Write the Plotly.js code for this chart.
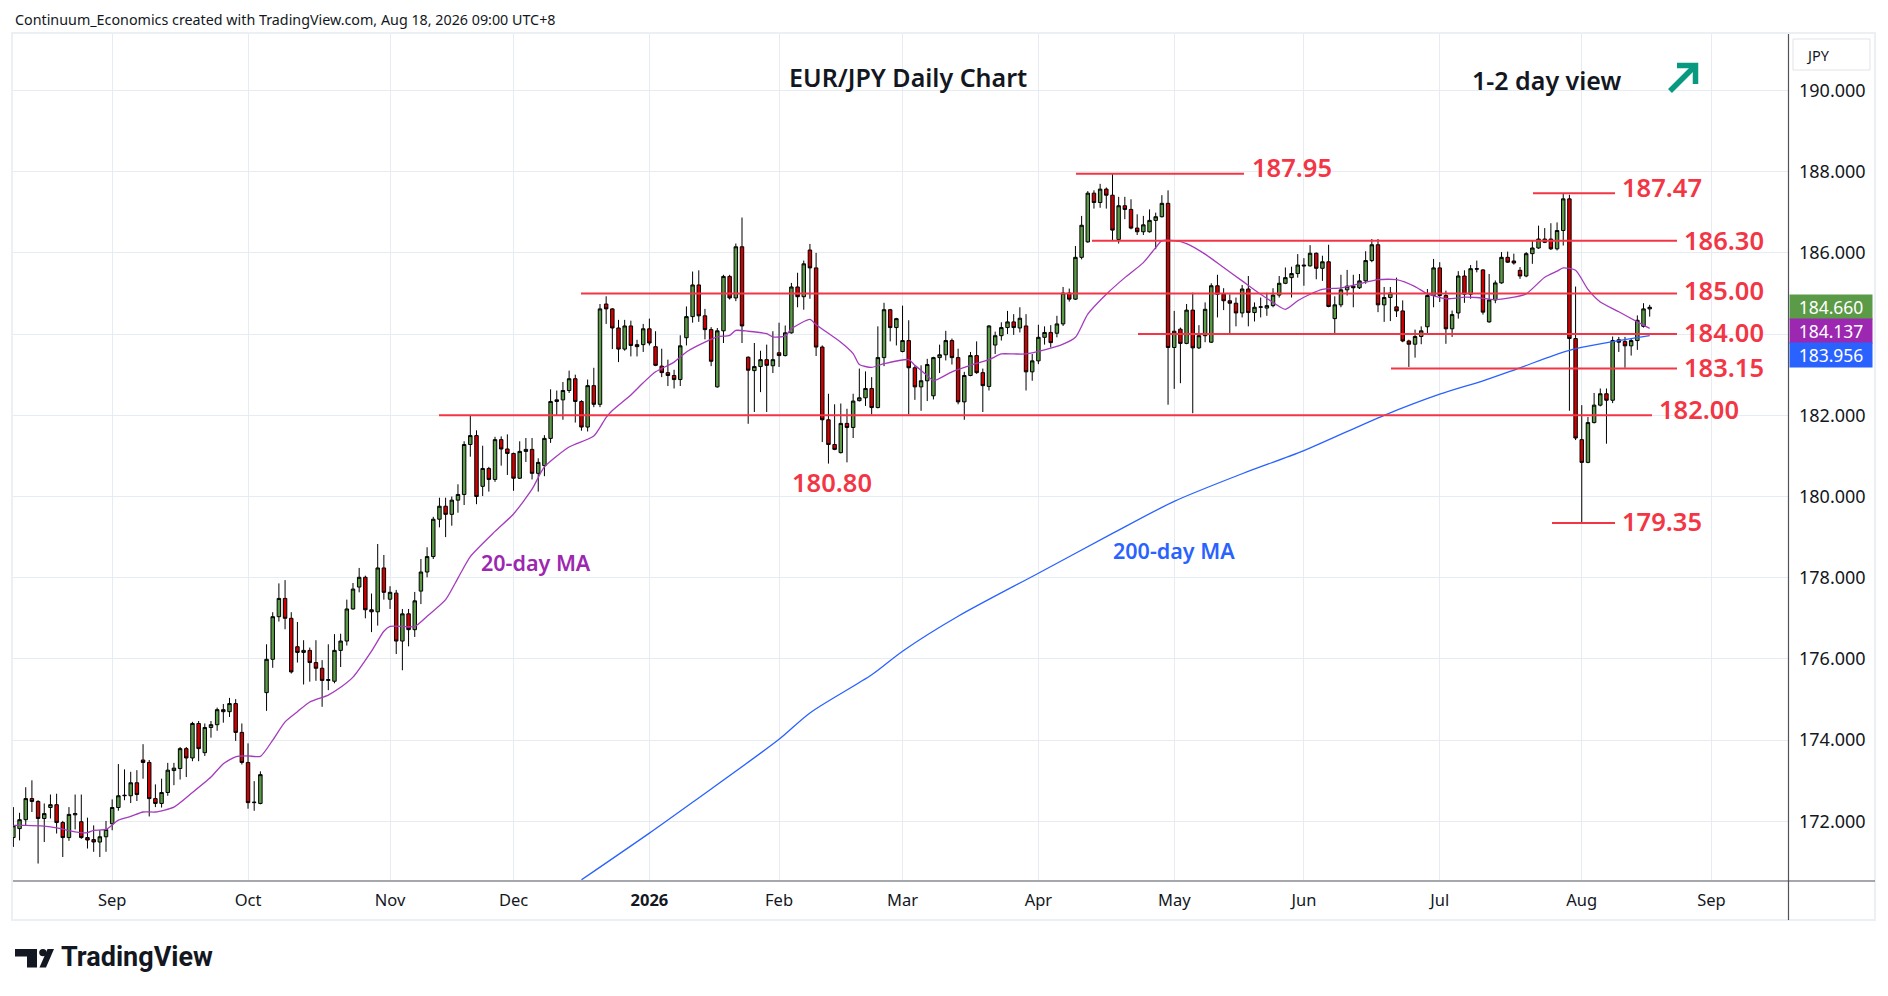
<!DOCTYPE html>
<html>
<head>
<meta charset="utf-8">
<script src="https://cdn.plot.ly/plotly-3.0.1.min.js"></script>
<style>
html,body{margin:0;padding:0;background:#fff;}
#chart{width:1888px;height:996px;}
</style>
</head>
<body>
<div id="chart"></div>
<script>
// ---------------- DATA ----------------
// Daily EUR/JPY bars, 2025-08-08 .. 2026-08-18 (weekdays, no bar on Dec 25 / Jan 1)
const firstDay = '2025-08-08';
const lastDay = '2026-08-18';
const holidays = ['2025-12-25', '2026-01-01'];

const open = [
171.60,171.82,172.04,172.56,172.49,172.07,172.34,172.41,171.97,171.60,
172.16,171.99,171.60,171.55,171.49,171.62,171.94,172.34,172.63,172.63,
172.95,173.51,173.45,172.56,172.44,172.71,173.25,173.30,173.79,173.56,
174.41,173.69,174.31,174.38,174.75,174.70,174.90,174.19,173.45,172.46,
172.44,175.17,175.99,177.04,177.49,177.00,176.30,176.16,176.21,175.91,
175.77,175.47,175.45,176.21,176.44,177.23,177.77,178.01,177.21,177.16,
178.24,177.47,177.62,176.44,177.11,176.72,177.67,178.14,178.52,179.44,
179.76,179.56,179.91,180.05,181.28,181.50,180.25,180.69,180.42,181.40,
181.17,181.06,180.45,181.11,181.16,180.57,180.76,181.43,182.34,182.38,
182.61,182.90,182.34,181.71,182.73,182.27,184.74,184.62,184.15,183.63,
184.20,183.74,183.74,184.13,183.69,183.21,183.05,182.98,182.88,183.91,
184.43,185.21,184.45,184.11,182.70,184.08,185.42,184.89,186.15,183.43,
183.10,183.20,183.37,183.22,183.54,183.47,184.03,185.16,184.92,186.07,
185.63,183.68,181.89,181.28,181.08,181.80,181.70,182.36,182.43,182.66,
182.19,183.42,184.60,184.16,183.57,183.84,183.17,182.70,182.85,182.48,
183.42,183.49,183.84,183.42,182.33,182.98,183.47,183.05,182.71,183.73,
183.96,184.16,184.30,184.15,184.20,183.07,183.34,183.92,184.04,184.02,
184.25,185.01,184.86,185.89,186.27,187.47,187.24,187.57,187.42,186.33,
187.16,187.07,186.61,186.52,186.52,186.80,186.89,187.22,183.67,184.12,
183.77,184.59,183.66,183.96,183.80,185.19,184.98,184.82,184.76,184.52,
185.11,184.53,184.66,184.64,184.70,184.96,185.25,185.39,185.49,185.70,
185.68,185.99,185.62,185.78,184.38,184.72,185.09,185.18,185.14,185.31,
185.81,186.20,184.72,184.90,184.67,184.57,183.83,183.75,183.94,184.18,
184.95,185.63,184.95,184.13,184.52,185.43,184.98,185.61,185.58,184.30,
184.84,185.26,185.89,185.80,185.57,185.43,185.98,186.12,186.34,186.34,
186.10,186.55,187.33,183.89,181.40,180.84,181.82,182.25,182.53,182.37,
183.86,183.82,183.71,183.84,184.19,184.62];

const high = [
172.35,172.21,172.84,173.01,172.52,172.44,172.66,172.68,172.01,172.35,
172.66,172.66,172.09,171.90,171.78,172.01,172.54,173.41,173.28,173.22,
173.26,173.90,173.51,172.91,173.05,173.44,173.44,173.83,173.83,174.45,
174.47,174.41,174.47,174.80,174.89,175.04,175.01,174.41,173.92,172.99,
173.23,176.36,177.15,177.86,177.94,177.15,176.91,176.46,176.28,176.46,
175.97,176.36,176.61,176.62,177.46,177.87,178.24,178.05,177.61,178.83,
178.56,177.79,177.70,177.23,177.23,177.65,178.46,178.75,179.50,179.97,
179.97,180.00,180.30,181.36,182.00,181.63,181.25,180.73,181.47,181.48,
181.53,181.08,181.36,181.44,181.44,180.94,181.51,182.64,182.61,182.82,
183.10,183.00,182.37,182.88,183.17,184.74,184.93,184.64,184.35,184.35,
184.33,183.86,184.25,184.38,184.07,183.64,183.37,183.12,183.97,184.68,
185.54,185.57,184.62,184.17,184.15,185.46,185.46,186.23,186.87,183.45,
183.78,183.59,183.74,184.07,184.28,184.21,185.26,185.51,185.81,186.22,
186.00,183.72,182.53,182.27,182.29,182.16,182.53,183.15,183.08,182.94,
184.19,184.77,184.62,184.40,184.70,184.34,183.23,183.23,183.39,183.44,
183.74,184.08,183.89,183.64,183.07,183.56,183.82,183.15,184.22,184.06,
184.29,184.57,184.49,184.66,184.49,183.51,184.23,184.19,184.22,184.45,
185.16,185.12,186.17,186.91,187.52,187.54,187.70,187.61,187.95,187.38,
187.38,187.32,186.95,186.91,187.07,186.99,187.42,187.54,184.57,184.16,
184.74,185.02,184.22,184.78,185.25,185.46,185.13,184.98,184.90,185.21,
185.43,184.78,184.90,185.02,185.13,185.43,185.64,185.66,185.97,185.87,
186.19,186.01,185.93,186.20,184.93,185.46,185.58,185.46,185.48,186.04,
186.34,186.34,185.16,185.16,185.39,184.83,183.86,184.11,184.19,185.11,
185.85,185.77,185.07,184.58,185.55,185.57,185.70,185.81,185.60,185.48,
185.32,186.02,186.03,185.98,185.65,186.02,186.30,186.67,186.61,186.73,
186.75,187.47,187.43,185.17,182.25,181.96,182.55,182.66,182.66,183.94,
183.93,183.93,183.89,184.46,184.76,184.72];

const low = [
171.37,171.53,171.90,172.23,170.96,171.49,172.07,171.70,171.12,171.52,
171.80,171.57,171.33,171.25,171.12,171.25,171.78,172.26,172.52,172.45,
172.50,173.05,172.12,172.35,172.34,172.63,172.89,173.03,173.09,173.48,
173.48,173.61,174.06,174.23,174.43,174.57,173.98,173.40,172.31,172.26,
172.42,174.72,175.78,176.92,176.73,175.64,175.91,175.37,175.44,175.46,
174.82,175.23,175.40,175.80,176.33,177.21,177.64,177.00,176.66,176.82,
177.46,177.23,176.12,175.72,176.31,176.54,177.35,178.01,178.46,179.24,
179.00,179.28,179.60,179.79,180.98,179.81,180.01,180.12,180.36,180.76,
180.53,180.14,180.43,180.85,180.42,180.12,180.50,181.32,182.00,181.89,
182.55,181.82,181.62,181.60,182.20,182.20,184.25,183.63,183.31,183.59,
183.45,183.45,183.56,183.72,183.21,182.94,182.72,182.66,182.72,183.72,
184.28,184.30,183.87,183.21,182.68,183.78,184.85,184.81,183.78,181.79,
182.08,182.57,182.08,183.04,183.19,183.45,184.01,184.66,184.60,184.87,
183.46,181.34,180.81,181.14,181.06,180.84,181.44,182.34,182.23,182.02,
182.17,183.21,183.82,183.72,183.55,182.02,182.38,182.11,182.35,182.39,
183.04,183.35,183.25,182.27,181.89,182.96,183.02,182.08,182.61,183.51,
183.84,184.00,183.98,184.04,182.61,182.85,183.26,183.74,183.67,183.92,
184.20,184.80,184.84,185.84,186.25,187.09,187.11,187.09,186.31,186.23,
186.83,186.58,186.44,186.44,186.50,186.09,186.87,182.26,182.65,182.79,
183.75,182.05,183.63,183.80,183.78,184.41,184.59,184.02,184.19,184.41,
184.19,184.31,184.41,184.45,184.66,184.90,185.23,184.90,185.39,185.19,
185.66,185.35,185.31,184.66,184.01,184.66,184.95,184.66,185.11,185.24,
185.77,184.54,184.30,184.32,184.42,183.80,183.19,183.42,183.75,184.01,
184.66,184.79,183.76,183.93,184.38,184.77,184.87,185.52,184.48,184.28,
184.76,185.24,185.75,185.71,185.36,185.40,185.73,186.10,186.24,186.07,
186.06,186.18,182.11,181.39,179.35,180.82,181.80,182.22,181.30,182.30,
183.56,183.17,183.47,183.61,184.16,184.43];

const close = [
171.89,172.04,172.56,172.49,172.07,172.19,172.41,171.97,171.60,172.17,
172.19,171.60,171.54,171.49,171.62,171.80,172.34,172.63,172.64,172.95,
172.66,173.45,172.56,172.44,172.71,173.26,173.31,173.79,173.56,174.41,
173.79,174.31,174.38,174.75,174.70,174.90,174.19,173.45,172.46,172.47,
173.15,175.99,177.04,177.49,177.00,175.68,176.16,176.21,175.91,175.77,
175.47,175.49,176.21,176.44,177.23,177.72,178.01,177.21,177.16,178.24,
177.64,177.64,176.44,177.11,176.72,177.43,178.14,178.52,179.44,179.76,
179.56,179.91,180.05,181.28,181.50,180.00,180.69,180.42,181.40,181.17,
181.06,180.45,181.11,181.16,180.57,180.84,181.43,182.34,182.38,182.61,
182.90,182.34,181.71,182.73,182.27,184.62,184.62,184.15,183.63,184.20,
183.72,183.69,184.13,183.78,183.23,183.05,182.98,182.88,183.71,184.43,
185.21,184.45,184.11,183.33,184.08,185.42,184.89,186.15,184.20,183.11,
183.20,183.37,183.23,183.37,183.47,184.03,185.16,184.92,185.73,185.63,
183.68,181.89,181.28,181.16,181.80,181.70,182.35,182.43,182.66,182.19,
183.42,184.60,184.16,184.38,183.84,183.17,182.70,182.85,183.25,183.42,
183.49,183.84,183.42,182.33,182.98,183.47,183.05,182.73,184.20,183.96,
184.16,184.30,184.16,184.39,183.07,183.34,183.92,184.04,183.79,184.25,
185.01,184.86,185.89,186.68,187.47,187.24,187.57,187.42,186.56,187.16,
187.07,186.61,186.52,186.69,186.80,186.89,187.22,183.67,184.07,183.77,
184.59,183.66,183.96,184.61,185.19,184.98,184.82,184.76,184.52,185.11,
184.53,184.66,184.67,184.70,184.96,185.25,185.39,185.49,185.70,185.68,
185.99,185.62,185.78,184.68,184.72,185.09,185.18,185.14,185.31,185.81,
186.20,184.72,184.90,185.01,184.57,183.83,183.75,183.94,184.08,184.95,
185.63,184.95,184.13,184.48,185.43,184.98,185.61,185.60,184.54,184.84,
185.26,185.89,185.77,185.75,185.43,185.98,186.12,186.34,186.26,186.10,
186.55,187.33,183.89,181.44,180.84,181.82,182.25,182.53,182.37,183.84,
183.80,183.71,183.84,184.34,184.62,184.66];

// 20-day moving average at selected bars (bar number, value)
const ma20Bar = [1,3,6,8,11,13,14,16,18,20,22,24,27,30,33,35,37,39,41,43,45,47,49,52,54,56,59,61,62,66,68,71,73,75,79,82,85,87,91,95,97,98,101,103,105,108,110,113,115,117,118,120,123,124,126,127,130,131,135,137,138,140,142,146,147,149,150,153,156,159,161,163,165,168,171,173,175,178,181,184,186,187,189,191,194,197,200,203,205,207,209,211,213,216,219,222,225,228,230,233,236,238,241,244,246,249,251,252,254,256,258,261,264,266];
const ma20Val = [171.90,171.90,171.88,171.84,171.74,171.72,171.78,171.80,172.03,172.12,172.23,172.23,172.35,172.71,173.09,173.42,173.59,173.61,173.60,174.00,174.45,174.70,174.94,175.11,175.30,175.55,176.19,176.68,176.80,176.80,177.05,177.46,177.99,178.52,179.14,179.57,180.18,180.73,181.22,181.49,181.95,182.12,182.50,182.80,183.07,183.31,183.56,183.80,183.93,183.97,184.09,184.07,184.01,183.93,183.95,184.13,184.36,184.23,183.80,183.52,183.25,183.18,183.27,183.37,183.23,182.98,182.85,183.07,183.23,183.37,183.51,183.51,183.51,183.61,183.75,183.92,184.49,184.98,185.39,185.76,186.13,186.30,186.30,186.23,185.97,185.64,185.31,184.98,184.78,184.61,184.82,184.98,185.10,185.14,185.24,185.34,185.34,185.17,184.99,184.87,184.91,184.90,184.85,184.91,184.99,185.40,185.55,185.63,185.57,185.10,184.79,184.55,184.30,184.14];

// 200-day moving average at selected bars
const ma200Bar = [93,104,111,125,130,140,145,154,167,179,189,200,210,223,232,239,245,253,266];
const ma200Val = [170.56,171.71,172.47,174.02,174.67,175.61,176.19,177.05,178.11,179.09,179.88,180.56,181.13,182.00,182.52,182.85,183.17,183.60,183.96];

// Horizontal support / resistance levels
const levels = [187.95, 187.47, 186.30, 185.00, 184.00, 183.15, 182.00, 179.35];
const swingLowLabel = 180.80;

// Axis ticks
const monthTicks = ['2025-09-01','2025-10-01','2025-11-03','2025-12-01','2026-01-02','2026-02-02','2026-03-02','2026-04-01','2026-05-01','2026-06-01','2026-07-01','2026-08-03','2026-09-01'];
const monthLabels = ['Sep','Oct','Nov','Dec','<b>2026</b>','Feb','Mar','Apr','May','Jun','Jul','Aug','Sep'];
const priceTicks = [172,174,176,178,180,182,184,186,188,190];

// Last values shown on the price scale
const lastClose = 184.660, lastMa20 = 184.137, lastMa200 = 183.956;

// ---------------- BUILD ----------------
function pad(n){return (n<10?'0':'')+n;}
function tradingDays(a, b, skip){
  const out=[]; const d=new Date(a+'T00:00:00Z'); const end=new Date(b+'T00:00:00Z');
  while(d<=end){
    const wd=d.getUTCDay();
    const s=d.getUTCFullYear()+'-'+pad(d.getUTCMonth()+1)+'-'+pad(d.getUTCDate());
    if(wd!==0 && wd!==6 && skip.indexOf(s)<0) out.push(s+' 12:00');
    d.setUTCDate(d.getUTCDate()+1);
  }
  return out;
}
const dates = tradingDays(firstDay, lastDay, holidays);

// pixel helpers (layout positions only)
const W=1888, H=996, PL=13, PR=1788, PT=34, PB=880;
const px = x => (x-PL)/(PR-PL);
const py = y => (PB-y)/(PB-PT);

const RED='#f23645', GREEN='#5b9a46', CRED='#d00000', FONT='Noto Sans, Open Sans, sans-serif', INK='#131722';

const traces = [
  {type:'scatter', mode:'lines', x: ma200Bar.map(b=>dates[b-1]), y: ma200Val,
   line:{color:'#2962ff', width:1.3, shape:'spline', smoothing:0.8}, hoverinfo:'skip'},
  {type:'scatter', mode:'lines', x: ma20Bar.map(b=>dates[b-1]), y: ma20Val,
   line:{color:'#a43bbd', width:1.3, shape:'spline', smoothing:0.6}, hoverinfo:'skip'},
  {type:'candlestick', x: dates, open: open, high: high, low: low, close: close,
   increasing:{line:{color:'#000000', width:1}, fillcolor:GREEN},
   decreasing:{line:{color:'#000000', width:1}, fillcolor:CRED},
   whiskerwidth:0, hoverinfo:'skip'}
];

// level lines geometry (pixels) : [x0, x1, labelLeft, label lift]
const levelGeom = [[1076,1244,1250,7],[1533,1615,1620,6],[1092,1677,1682,1],[581,1677,1682,3],[1138,1677,1682,2],[1391,1677,1682,2],[439,1652,1657,6],[1552,1615,1620,2]];

const shapes = [];
const annotations = [];
const LBL = 25.5;

levels.forEach((v,i)=>{
  const g = levelGeom[i];
  shapes.push({type:'line', xref:'paper', yref:'y', x0:px(g[0]), x1:px(g[1]), y0:v, y1:v, line:{color:RED, width:2}});
  annotations.push({xref:'paper', yref:'y', x:px(g[2]), y:v, xanchor:'left', yanchor:'middle', yshift:g[3],
    text:v.toFixed(2), showarrow:false, font:{family:FONT, size:LBL, color:RED, weight:600}});
});
annotations.push({xref:'paper', yref:'paper', x:px(832), y:py(482), xanchor:'center', yanchor:'middle',
  text:swingLowLabel.toFixed(2), showarrow:false, font:{family:FONT, size:LBL, color:RED, weight:600}});

// MA labels
annotations.push({xref:'paper', yref:'paper', x:px(536), y:py(562), xanchor:'center', yanchor:'middle',
  text:'20-day MA', showarrow:false, font:{family:FONT, size:21.5, color:'#9c27b0', weight:600}});
annotations.push({xref:'paper', yref:'paper', x:px(1174), y:py(550), xanchor:'center', yanchor:'middle',
  text:'200-day MA', showarrow:false, font:{family:FONT, size:21.5, color:'#2962ff', weight:600}});

// titles
annotations.push({xref:'paper', yref:'paper', x:px(908), y:py(77), xanchor:'center', yanchor:'middle',
  text:'EUR/JPY Daily Chart', showarrow:false, font:{family:FONT, size:25, color:INK, weight:600}});
annotations.push({xref:'paper', yref:'paper', x:px(1546), y:py(80), xanchor:'center', yanchor:'middle',
  text:'1-2 day view', showarrow:false, font:{family:FONT, size:25, color:INK, weight:600}});

// header
annotations.push({xref:'paper', yref:'paper', x:px(13), y:py(19), xanchor:'left', yanchor:'middle',
  text:'Continuum_Economics created with TradingView.com, Aug 18, 2026 09:00 UTC+8', showarrow:false,
  font:{family:FONT, size:14.3, color:INK}});

// TradingView wordmark
annotations.push({xref:'paper', yref:'paper', x:px(59), y:py(957), xanchor:'left', yanchor:'middle',
  text:'<b>TradingView</b>', showarrow:false, font:{family:'Roboto, '+FONT, size:27, color:INK}});

// JPY box text
annotations.push({xref:'paper', yref:'paper', x:px(1804), y:py(55), xanchor:'left', yanchor:'middle',
  text:'JPY', showarrow:false, font:{family:FONT, size:14.5, color:INK}});

// price tags
[[lastClose, GREEN, 0],[lastMa20,'#9c27b0',-2.5],[lastMa200,'#2962ff',-19.5]].forEach(t=>{
  annotations.push({xref:'paper', yref:'y', x:1, y:t[0], xanchor:'left', yanchor:'middle', xshift:1, yshift:t[2],
    text:t[0].toFixed(3), showarrow:false, bgcolor:t[1], width:78, height:20, borderpad:2, align:'center',
    font:{family:FONT, size:17.5, color:'#ffffff'}});
});

// frame and axis separators
shapes.push({type:'rect', xref:'paper', yref:'paper', x0:px(12), x1:px(1875), y0:py(920), y1:py(33),
  line:{color:'#eceff3', width:2}, fillcolor:'rgba(0,0,0,0)', layer:'below'});
shapes.push({type:'line', xref:'paper', yref:'paper', x0:px(13), x1:px(1875), y0:py(881), y1:py(881), line:{color:'#50535e', width:1.2}});
shapes.push({type:'line', xref:'paper', yref:'paper', x0:px(1788.5), x1:px(1788.5), y0:py(34), y1:py(920), line:{color:'#50535e', width:1.2}});
// JPY box
shapes.push({type:'rect', xref:'paper', yref:'paper', x0:px(1793), x1:px(1870), y0:py(70), y1:py(39),
  line:{color:'#e0e3eb', width:1}, fillcolor:'#ffffff'});

// up-right arrow
const ARW='#089981';
shapes.push({type:'path', xref:'paper', yref:'paper',
  path:'M '+px(1670)+','+py(91)+' L '+px(1693)+','+py(68), line:{color:ARW, width:5.5}});
shapes.push({type:'path', xref:'paper', yref:'paper',
  path:'M '+px(1677)+','+py(65.5)+' L '+px(1695.5)+','+py(65.5)+' L '+px(1695.5)+','+py(84), line:{color:ARW, width:5.5}});

// TradingView logo mark
shapes.push({type:'path', xref:'paper', yref:'paper', fillcolor:INK, line:{width:0},
  path:'M '+px(15)+','+py(949)+' L '+px(37)+','+py(949)+' L '+px(37)+','+py(967.5)+' L '+px(27)+','+py(967.5)+' L '+px(27)+','+py(956.5)+' L '+px(15)+','+py(956.5)+' Z'});
shapes.push({type:'circle', xref:'paper', yref:'paper', fillcolor:INK, line:{width:0},
  x0:px(39.2), x1:px(46.6), y0:py(956.3), y1:py(948.9)});
shapes.push({type:'path', xref:'paper', yref:'paper', fillcolor:INK, line:{width:0},
  path:'M '+px(47.5)+','+py(949)+' L '+px(54)+','+py(949)+' L '+px(46)+','+py(967.5)+' L '+px(39.5)+','+py(967.5)+' Z'});

const layout = {
  width:W, height:H, paper_bgcolor:'#ffffff', plot_bgcolor:'#ffffff',
  margin:{l:PL, r:W-PR, t:PT, b:H-PB, pad:0},
  showlegend:false, hovermode:false, dragmode:false,
  xaxis:{type:'date', range:['2025-08-08 10:30','2026-09-17 21:36'],
    rangebreaks:[{bounds:['sat','mon']},{values:holidays}],
    rangeslider:{visible:false},
    tickmode:'array', tickvals:monthTicks.map(d=>d+' 12:00'), ticktext:monthLabels,
    ticks:'', ticklabelstandoff:8, showgrid:true, gridcolor:'#e6ecf2', gridwidth:1,
    zeroline:false, showline:false, tickfont:{family:FONT, size:16.5, color:INK}, fixedrange:true},
  yaxis:{side:'right', range:[170.555, 191.39], tickmode:'array', tickvals:priceTicks,
    ticktext:priceTicks.map(v=>v.toFixed(3)), ticks:'', ticklabelstandoff:10,
    showgrid:true, gridcolor:'#e6ecf2', gridwidth:1, zeroline:false, showline:false,
    tickfont:{family:FONT, size:18, color:INK}, fixedrange:true},
  boxgap:0.2,
  shapes:shapes, annotations:annotations
};

Plotly.newPlot('chart', traces, layout, {staticPlot:true, displayModeBar:false});
</script>
</body>
</html>
